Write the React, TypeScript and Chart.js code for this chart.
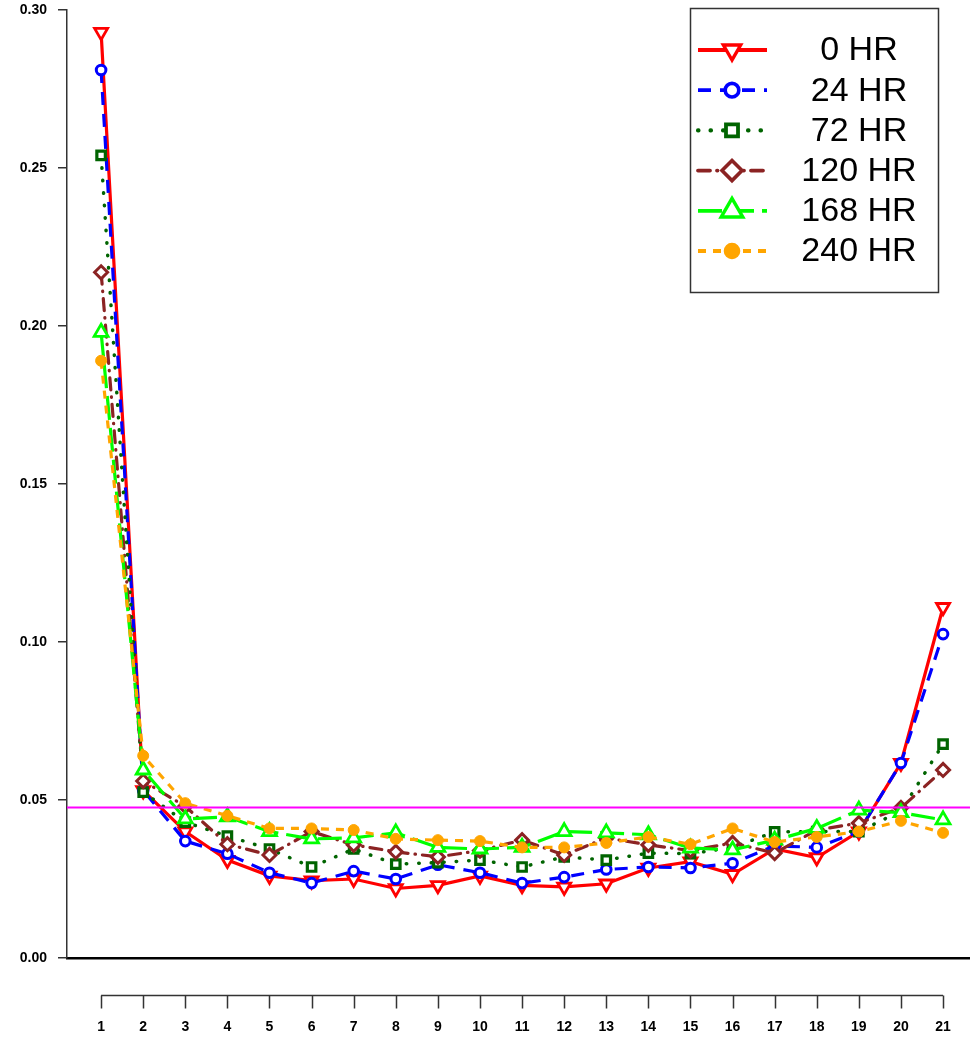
import React, { useEffect, useRef } from "react";
import { Chart, registerables } from "chart.js";

Chart.register(...registerables);

// ---------------- data ----------------
const CATEGORIES = [1, 2, 3, 4, 5, 6, 7, 8, 9, 10, 11, 12, 13, 14, 15, 16, 17, 18, 19, 20, 21];
const SERIES_NAMES = ["0 HR", "24 HR", "72 HR", "120 HR", "168 HR", "240 HR"];

const HR_0 = [0.293, 0.053, 0.040, 0.031, 0.026, 0.0245, 0.025, 0.022, 0.023, 0.026, 0.023, 0.0225, 0.0235, 0.0285, 0.0305, 0.0265, 0.0345, 0.0318, 0.040, 0.0617, 0.111];
const HR_24 = [0.281, 0.053, 0.037, 0.033, 0.027, 0.0237, 0.0275, 0.025, 0.0295, 0.027, 0.0237, 0.0256, 0.028, 0.0288, 0.0285, 0.030, 0.0355, 0.035, 0.040, 0.0617, 0.1025];
const HR_72 = [0.254, 0.0525, 0.043, 0.0386, 0.0345, 0.0288, 0.0345, 0.0297, 0.0302, 0.031, 0.0288, 0.032, 0.031, 0.0332, 0.033, 0.035, 0.0399, 0.040, 0.040, 0.0465, 0.0677];
const HR_120 = [0.217, 0.056, 0.048, 0.036, 0.0326, 0.040, 0.0358, 0.0336, 0.032, 0.034, 0.0373, 0.0326, 0.038, 0.0358, 0.034, 0.0364, 0.0332, 0.0405, 0.0427, 0.0475, 0.0595];
const HR_168 = [0.198, 0.0595, 0.044, 0.0447, 0.040, 0.0377, 0.038, 0.0396, 0.035, 0.0345, 0.035, 0.040, 0.0396, 0.039, 0.0348, 0.0342, 0.0373, 0.041, 0.0468, 0.046, 0.0437];
const HR_240 = [0.189, 0.064, 0.049, 0.045, 0.041, 0.041, 0.0405, 0.0377, 0.0373, 0.037, 0.035, 0.035, 0.0364, 0.0383, 0.036, 0.041, 0.0367, 0.0383, 0.040, 0.0434, 0.0396];

const SERIES_VALUES = [HR_0, HR_24, HR_72, HR_120, HR_168, HR_240];
const Y_TICKS = [0, 0.05, 0.1, 0.15, 0.2, 0.25, 0.3];
const REFERENCE_VALUE = 1 / 21;

// ---------------- styles ----------------
type SeriesStyle = {
  color: string;
  dash: number[];
  cap: CanvasLineCap;
  width: number;
  point: string;
  rotation: number;
  radius: number;
  borderWidth: number;
  fill: string;
  legendRadius: number;
};

const STYLES: SeriesStyle[] = [
  { color: "#FF0000", dash: [], cap: "butt", width: 3.2, point: "triangle", rotation: 180, radius: 7.5, borderWidth: 2.8, fill: "#FFFFFF", legendRadius: 10 },
  { color: "#0000FF", dash: [13, 9], cap: "butt", width: 3.2, point: "circle", rotation: 0, radius: 4.8, borderWidth: 3, fill: "#FFFFFF", legendRadius: 6.8 },
  { color: "#006400", dash: [0.5, 12], cap: "round", width: 3.5, point: "rect", rotation: 0, radius: 6, borderWidth: 3.2, fill: "#FFFFFF", legendRadius: 8.5 },
  { color: "#8B2323", dash: [12, 7, 0.5, 7], cap: "round", width: 3.2, point: "rectRot", rotation: 0, radius: 6.5, borderWidth: 3, fill: "#FFFFFF", legendRadius: 10 },
  { color: "#00FF00", dash: [24, 8], cap: "butt", width: 3.2, point: "triangle", rotation: 0, radius: 8, borderWidth: 2.8, fill: "#FFFFFF", legendRadius: 12.5 },
  { color: "#FFA500", dash: [8, 7], cap: "butt", width: 3.2, point: "circle", rotation: 0, radius: 5.5, borderWidth: 1, fill: "#FFA500", legendRadius: 7.5 },
];

const TICK_FONT_CSS = 'bold 14px "Liberation Sans Narrow", "Liberation Sans", Arial, sans-serif';
const TICK_FONT = { family: '"Liberation Sans Narrow", "Liberation Sans", Arial, sans-serif', size: 14, weight: "bold" as const };

function drawMarker(ctx: CanvasRenderingContext2D, s: SeriesStyle, x: number, y: number, r: number) {
  ctx.save();
  ctx.setLineDash([]);
  ctx.beginPath();
  if (s.point === "circle") {
    ctx.arc(x, y, r, 0, Math.PI * 2);
  } else if (s.point === "triangle") {
    let a = (s.rotation * Math.PI) / 180;
    for (let k = 0; k < 3; k++) {
      const px = x + Math.sin(a) * r;
      const py = y - Math.cos(a) * r;
      if (k === 0) ctx.moveTo(px, py);
      else ctx.lineTo(px, py);
      a += (2 * Math.PI) / 3;
    }
    ctx.closePath();
  } else if (s.point === "rect") {
    const h = r * Math.SQRT1_2;
    ctx.rect(x - h, y - h, 2 * h, 2 * h);
  } else if (s.point === "rectRot") {
    ctx.moveTo(x - r, y);
    ctx.lineTo(x, y - r);
    ctx.lineTo(x + r, y);
    ctx.lineTo(x, y + r);
    ctx.closePath();
  }
  ctx.fillStyle = s.fill;
  ctx.fill();
  ctx.lineWidth = s.borderWidth + 0.6;
  ctx.strokeStyle = s.color;
  ctx.lineJoin = "miter";
  ctx.stroke();
  ctx.restore();
}

const referenceLinePlugin = {
  id: "referenceLine",
  afterDatasetsDraw(chart: any) {
    const { ctx, chartArea, scales } = chart;
    const y = scales.y.getPixelForValue(REFERENCE_VALUE);
    ctx.save();
    ctx.strokeStyle = "#FF00FF";
    ctx.lineWidth = 2;
    ctx.setLineDash([]);
    ctx.beginPath();
    ctx.moveTo(chartArea.left, y);
    ctx.lineTo(chartArea.right, y);
    ctx.stroke();
    ctx.restore();
  },
};

const detachedAxisPlugin = {
  id: "detachedAxis",
  afterDraw(chart: any) {
    const { ctx, scales } = chart;
    const xs = scales.x;
    const y0 = 995.5;
    ctx.save();
    ctx.strokeStyle = "#333333";
    ctx.lineWidth = 1.5;
    ctx.setLineDash([]);
    ctx.beginPath();
    ctx.moveTo(xs.getPixelForValue(CATEGORIES[0]), y0);
    ctx.lineTo(xs.getPixelForValue(CATEGORIES[CATEGORIES.length - 1]), y0);
    CATEGORIES.forEach((c) => {
      const px = Math.round(xs.getPixelForValue(c)) + 0.5;
      ctx.moveTo(px, y0);
      ctx.lineTo(px, y0 + 13);
    });
    ctx.stroke();
    ctx.fillStyle = "#000000";
    ctx.font = TICK_FONT_CSS;
    ctx.textAlign = "center";
    ctx.textBaseline = "middle";
    CATEGORIES.forEach((c) => {
      ctx.fillText(String(c), xs.getPixelForValue(c), 1027);
    });
    ctx.restore();
  },
};

const legendPlugin = {
  id: "boxLegend",
  afterDraw(chart: any) {
    const ctx: CanvasRenderingContext2D = chart.ctx;
    ctx.save();
    ctx.strokeStyle = "#333333";
    ctx.lineWidth = 1.5;
    ctx.setLineDash([]);
    ctx.strokeRect(690.5, 8.5, 248, 284);
    SERIES_NAMES.forEach((name, i) => {
      const s = STYLES[i];
      const y = 50 + i * 40.2;
      ctx.save();
      ctx.beginPath();
      ctx.setLineDash(s.dash);
      ctx.lineCap = s.cap;
      ctx.strokeStyle = s.color;
      ctx.lineWidth = s.width + 0.6;
      ctx.moveTo(698, y);
      ctx.lineTo(767, y);
      ctx.stroke();
      ctx.restore();
      drawMarker(ctx, s, 732, y, s.legendRadius);
      ctx.fillStyle = "#000000";
      ctx.font = '34px "Liberation Sans", Arial, sans-serif';
      ctx.textAlign = "center";
      ctx.textBaseline = "middle";
      ctx.fillText(name, 859, y + 1);
    });
    ctx.restore();
  },
};

export default function App() {
  const canvasRef = useRef<HTMLCanvasElement | null>(null);

  useEffect(() => {
    if (!canvasRef.current) return;
    const datasets = SERIES_NAMES.map((name, i) => {
      const s = STYLES[i];
      return {
        label: name,
        data: CATEGORIES.map((c, j) => ({ x: c, y: SERIES_VALUES[i][j] })),
        borderColor: s.color,
        borderWidth: s.width,
        borderDash: s.dash,
        borderCapStyle: s.cap,
        backgroundColor: s.fill,
        pointStyle: s.point,
        rotation: s.rotation,
        pointRadius: s.radius,
        pointBorderWidth: s.borderWidth,
        pointBorderColor: s.color,
        pointBackgroundColor: s.fill,
        tension: 0,
        fill: false,
        clip: false as any,
        order: SERIES_NAMES.length - i,
      };
    });

    const chart = new Chart(canvasRef.current, {
      type: "line",
      data: { datasets: datasets as any },
      options: {
        animation: false,
        responsive: false,
        devicePixelRatio: 1,
        layout: { autoPadding: false, padding: { top: 10, left: 0, right: 0, bottom: 0 } },
        plugins: { legend: { display: false }, tooltip: { enabled: false } },
        scales: {
          x: {
            type: "linear",
            min: 0.19,
            max: 21.64,
            afterBuildTicks: (scale: any) => {
              scale.ticks = CATEGORIES.map((v) => ({ value: v }));
            },
            afterFit: (scale: any) => {
              scale.height = 80;
              scale.paddingLeft = 0;
              scale.paddingRight = 0;
              scale.paddingTop = 0;
              scale.paddingBottom = 0;
            },
            grid: { display: false, drawTicks: false },
            border: { display: true, color: "#000000", width: 2.5 },
            ticks: { display: false },
          },
          y: {
            type: "linear",
            min: Y_TICKS[0],
            max: Y_TICKS[Y_TICKS.length - 1],
            afterBuildTicks: (scale: any) => {
              scale.ticks = Y_TICKS.map((v) => ({ value: v }));
            },
            afterFit: (scale: any) => {
              scale.width = 67;
              scale.paddingLeft = 0;
              scale.paddingRight = 0;
              scale.paddingTop = 0;
              scale.paddingBottom = 0;
            },
            grid: { display: true, drawOnChartArea: false, drawTicks: true, tickLength: 9, color: "#333333", lineWidth: 1.5 },
            border: { display: true, color: "#333333", width: 1.5 },
            ticks: {
              color: "#000000",
              font: TICK_FONT,
              padding: 11,
              callback: (v: any) => Number(v).toFixed(2),
            },
          },
        },
      },
      plugins: [referenceLinePlugin, detachedAxisPlugin, legendPlugin],
    });
    return () => chart.destroy();
  }, []);

  return (
    <div style={{ position: "absolute", left: 0, top: 0, width: 970, height: 1038, background: "#FFFFFF" }}>
      <canvas ref={canvasRef} width={970} height={1038} style={{ display: "block", width: 970, height: 1038 }} />
    </div>
  );
}
